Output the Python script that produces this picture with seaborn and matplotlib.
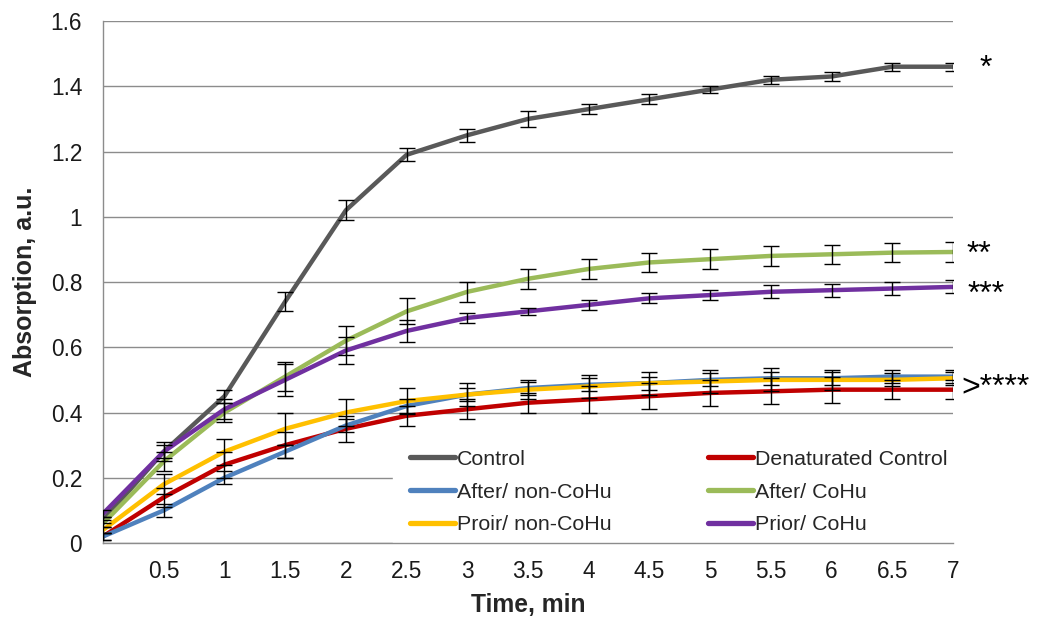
import numpy as np
import pandas as pd
import matplotlib
matplotlib.use("Agg")
import matplotlib.pyplot as plt
from matplotlib.lines import Line2D
import seaborn as sns

# Sampling times (min)
time = [0, 0.5, 1, 1.5, 2, 2.5, 3, 3.5, 4, 4.5, 5, 5.5, 6, 6.5, 7]

# Mean absorption per condition
control = [0.07, 0.28, 0.45, 0.74, 1.02, 1.19, 1.25, 1.30, 1.33, 1.36, 1.39, 1.42, 1.43, 1.46, 1.46]
denat_control = [0.02, 0.14, 0.24, 0.30, 0.35, 0.39, 0.41, 0.43, 0.44, 0.45, 0.46, 0.465, 0.47, 0.47, 0.47]
after_non = [0.02, 0.10, 0.20, 0.28, 0.36, 0.42, 0.455, 0.475, 0.485, 0.49, 0.50, 0.505, 0.505, 0.51, 0.51]
after_cohu = [0.06, 0.25, 0.40, 0.51, 0.62, 0.71, 0.77, 0.81, 0.84, 0.86, 0.87, 0.88, 0.885, 0.89, 0.892]
prior_non = [0.04, 0.18, 0.28, 0.35, 0.40, 0.435, 0.455, 0.47, 0.48, 0.49, 0.495, 0.50, 0.50, 0.50, 0.505]
prior_cohu = [0.09, 0.28, 0.41, 0.50, 0.59, 0.65, 0.69, 0.71, 0.73, 0.75, 0.76, 0.77, 0.775, 0.78, 0.785]

# Standard deviations
control_err = [0.01, 0.02, 0.02, 0.03, 0.03, 0.02, 0.02, 0.025, 0.015, 0.015, 0.012, 0.012, 0.015, 0.012, 0.012]
denat_err = [0.01, 0.03, 0.04, 0.04, 0.04, 0.03, 0.03, 0.03, 0.04, 0.04, 0.04, 0.04, 0.04, 0.03, 0.03]
after_non_err = [0.01, 0.02, 0.02, 0.02, 0.02, 0.02, 0.02, 0.02, 0.02, 0.02, 0.02, 0.02, 0.02, 0.02, 0.02]
after_cohu_err = [0.01, 0.03, 0.03, 0.045, 0.045, 0.04, 0.03, 0.03, 0.03, 0.03, 0.03, 0.03, 0.03, 0.03, 0.03]
prior_non_err = [0.01, 0.03, 0.04, 0.05, 0.04, 0.04, 0.035, 0.03, 0.035, 0.035, 0.035, 0.035, 0.03, 0.02, 0.02]
prior_cohu_err = [0.01, 0.03, 0.03, 0.05, 0.04, 0.035, 0.015, 0.01, 0.015, 0.015, 0.015, 0.02, 0.02, 0.02, 0.02]

names = ["Control", "Denaturated Control", "After/ non-CoHu", "After/ CoHu",
         "Proir/ non-CoHu", "Prior/ CoHu"]
means = [control, denat_control, after_non, after_cohu, prior_non, prior_cohu]
errs = [control_err, denat_err, after_non_err, after_cohu_err, prior_non_err, prior_cohu_err]
colors = ["#595959", "#C00000", "#4F81BD", "#9BBB59", "#FFC000", "#7030A0"]

# Significance markers to the right of the curves (x offset, baseline level)
sig_labels = ["*", "**", "***", ">****"]
sig_x = [7.22, 7.11, 7.12, 7.07]
sig_levels = [1.43, 0.858, 0.735, 0.452]

rows = []
for name, m, e in zip(names, means, errs):
    for t, v, s in zip(time, m, e):
        rows.append({"Time": t, "Absorption": v, "err": s, "Group": name})
df = pd.DataFrame(rows)

sns.set_style("white")
plt.rcParams["font.family"] = ["Liberation Sans", "DejaVu Sans"]

fig = plt.figure(figsize=(10.45, 6.19), dpi=100)
ax = fig.add_axes([0.0986, 0.1228, 0.8134, 0.8432])

palette = dict(zip(names, colors))
sns.lineplot(data=df, x="Time", y="Absorption", hue="Group", hue_order=names,
             palette=palette, linewidth=3.2, legend=False, ax=ax, zorder=3,
             solid_capstyle="round")

for name, m, e in zip(names, means, errs):
    ax.errorbar(time, m, yerr=e, fmt="none", ecolor="black", elinewidth=1.0,
                capsize=6, capthick=1.0, zorder=4)

ax.set_xlim(0, 7)
ax.set_ylim(0, 1.6)
ax.set_xticks(time)
ax.set_xticklabels([""] + [f"{t:g}" for t in time[1:]])
ax.set_yticks(np.arange(0, 1.61, 0.2))
ax.set_yticklabels(["0", "0.2", "0.4", "0.6", "0.8", "1", "1.2", "1.4", "1.6"])

ax.yaxis.grid(True, color="#8c8c8c", linewidth=1.0)
ax.xaxis.grid(False)
ax.set_axisbelow(True)
for side in ["top", "right"]:
    ax.spines[side].set_visible(False)
for side in ["left", "bottom"]:
    ax.spines[side].set_color("#8c8c8c")
    ax.spines[side].set_linewidth(1.0)
ax.tick_params(axis="both", which="major", direction="out", length=5, width=1,
               color="#8c8c8c", labelsize=16.3, labelcolor="#1a1a1a")
ax.tick_params(axis="x", pad=7.5)
ax.tick_params(axis="y", pad=10)

ax.set_xlabel("Time, min", fontsize=17.7, fontweight="bold", labelpad=7)
ax.set_ylabel("Absorption, a.u.", fontsize=18, fontweight="bold", labelpad=10)

for lab, xs, lev in zip(sig_labels, sig_x, sig_levels):
    ax.text(xs, lev, lab, fontsize=23, va="baseline", ha="left",
            clip_on=False, color="black")

order = [0, 2, 4, 1, 3, 5]
handles = [Line2D([0], [0], color=colors[i], linewidth=3.8, solid_capstyle="round")
           for i in order]
labels = [names[i] for i in order]
leg = ax.legend(handles, labels, ncol=2, loc="upper left",
                bbox_to_anchor=(0.341, 0.211), fontsize=15.4, frameon=True,
                handlelength=2.1, handletextpad=0.1, columnspacing=4.5,
                labelspacing=0.64, borderpad=0.8, borderaxespad=0.0)
leg.get_frame().set_facecolor("white")
leg.get_frame().set_edgecolor("white")
leg.get_frame().set_alpha(1.0)
# Above the gridlines, below the axis spines
leg.set_zorder(2)

fig.savefig("out.png", dpi=100)
